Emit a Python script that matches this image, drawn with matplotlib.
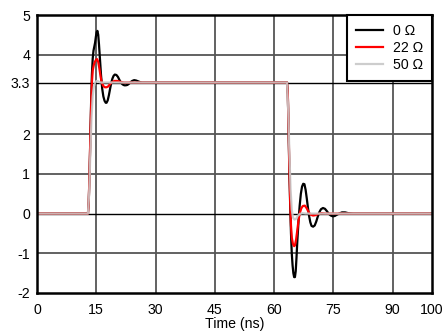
import matplotlib
matplotlib.use("Agg")
import matplotlib.pyplot as plt

plt.rcParams['font.family'] = ['Liberation Sans', 'DejaVu Sans']

# ---- data ----
t_0 = [0, 12.9, 13.1, 13.3, 13.5, 13.7, 13.9, 14.1, 14.3, 14.5, 14.7, 14.9, 15.1, 15.3, 15.5, 15.7,
       15.9, 16.2, 16.5, 16.8, 17.1, 17.4, 17.6, 17.9, 18.2, 18.5, 18.8, 19.1, 19.4, 19.7, 20.1,
       20.5, 20.9, 21.3, 21.7, 22.1, 22.5, 22.9, 23.3, 23.7, 24.1, 24.6, 25.1, 25.6, 26.1, 26.6,
       27.5, 63.3, 63.5, 63.7, 63.9, 64.1, 64.3, 64.5, 64.7, 64.9, 65.1, 65.3, 65.5, 65.7, 65.9,
       66.2, 66.5, 66.8, 67.1, 67.4, 67.7, 68.0, 68.3, 68.6, 68.9, 69.2, 69.5, 69.9, 70.3, 70.7,
       71.1, 71.5, 71.9, 72.4, 72.9, 73.4, 73.9, 74.4, 74.9, 75.4, 75.9, 76.5, 77.2, 78.0, 78.8,
       80.0, 100]
v_0 = [0, 0, 0.3, 1.0, 1.9, 2.8, 3.5, 3.9, 4.1, 4.2, 4.3, 4.45, 4.57, 4.6, 4.5, 4.25,
       3.95, 3.5, 3.15, 2.95, 2.84, 2.79, 2.79, 2.85, 2.98, 3.14, 3.29, 3.40, 3.47, 3.5, 3.49,
       3.44, 3.36, 3.29, 3.25, 3.23, 3.23, 3.24, 3.27, 3.31, 3.34, 3.36, 3.35, 3.33, 3.31, 3.30,
       3.30, 3.30, 3.0, 2.0, 1.0, 0.2, -0.5, -1.0, -1.3, -1.5, -1.6, -1.6, -1.45, -1.1, -0.7,
       -0.2, 0.2, 0.5, 0.68, 0.75, 0.74, 0.6, 0.38, 0.14, -0.07, -0.22, -0.31, -0.33, -0.3, -0.2,
       -0.07, 0.04, 0.11, 0.14, 0.12, 0.06, -0.01, -0.05, -0.07, -0.06, -0.03, 0.0, 0.03, 0.03, 0.01,
       0, 0]

t_22 = [0, 12.9, 13.1, 13.3, 13.5, 13.7, 13.9, 14.1, 14.4, 14.7, 15.0, 15.2, 15.5, 15.8, 16.1,
        16.4, 16.8, 17.2, 17.6, 18.0, 18.5, 19.0, 19.6, 20.3, 21.0, 22.0, 63.3, 63.5, 63.7, 63.9,
        64.1, 64.3, 64.5, 64.8, 65.1, 65.3, 65.6, 65.9, 66.2, 66.5, 66.9, 67.3, 67.8, 68.3, 68.8,
        69.3, 69.9, 70.5, 71.2, 72.0, 73.0, 100]
v_22 = [0, 0, 0.3, 1.0, 1.9, 2.7, 3.3, 3.6, 3.75, 3.83, 3.88, 3.89, 3.82, 3.65, 3.45,
        3.3, 3.21, 3.18, 3.18, 3.2, 3.26, 3.31, 3.34, 3.34, 3.32, 3.30, 3.30, 3.0, 2.1, 1.1,
        0.3, -0.3, -0.6, -0.77, -0.82, -0.8, -0.65, -0.42, -0.18, 0.0, 0.13, 0.19, 0.2, 0.13, 0.03,
        -0.03, -0.05, -0.04, -0.01, 0.01, 0, 0]

t_50 = [0, 12.9, 13.2, 13.5, 13.8, 14.1, 14.4, 14.7, 15.1, 15.5, 16.0, 63.3, 63.6, 63.9, 64.2,
        64.5, 64.8, 65.2, 65.6, 66.0, 66.5, 67.2, 68.0, 100]
v_50 = [0, 0, 0.5, 1.5, 2.4, 2.95, 3.2, 3.3, 3.34, 3.33, 3.3, 3.3, 2.6, 1.5, 0.6,
        0.1, -0.1, -0.15, -0.13, -0.06, -0.01, 0.01, 0, 0]

series_labels = ['0 Ω', '22 Ω', '50 Ω']
series_colors = ['#000000', '#ff0000', '#c8c8c8']

x_ticks = [0, 15, 30, 45, 60, 75, 90, 100]
y_ticks = [-2, -1, 0, 1, 2, 3.3, 4, 5]
x_label = 'Time (ns)'

# ---- figure ----
W, H = 442, 333
fig = plt.figure(figsize=(W / 100, H / 100), dpi=100)
L, R, T, B = 37, 432, 15, 293
ax = fig.add_axes([L / W, 1 - B / H, (R - L) / W, (B - T) / H])

ax.set_xlim(0, 100)
ax.set_ylim(-2, 5)

# grid
for xv in x_ticks:
    if 0 < xv < 100:
        ax.axvline(xv, color='#555555', lw=1.3, zorder=1)
for yv in y_ticks:
    if -2 < yv < 5:
        if yv in (0, 3.3):
            ax.axhline(yv, color='#000000', lw=1.0, zorder=1)
        else:
            ax.axhline(yv, color='#555555', lw=1.3, zorder=1)

ax.plot(t_0, v_0, color=series_colors[0], lw=1.6, label=series_labels[0], zorder=3)
ax.plot(t_22, v_22, color=series_colors[1], lw=1.6, label=series_labels[1], zorder=4)
ax.plot(t_50, v_50, color=series_colors[2], lw=1.6, label=series_labels[2], zorder=5, alpha=0.9)

FS = 10.2
ax.set_xticks(x_ticks)
ax.set_xticklabels([str(v) for v in x_ticks])
ax.set_yticks(y_ticks)
ax.set_yticklabels(['-2', '-1', '0', '1', '2', '3.3', '4', '5'])
ax.tick_params(length=0, labelsize=FS, colors='black')
ax.yaxis.set_tick_params(pad=5)
ax.xaxis.set_tick_params(pad=7.5)
fig.text((L + R) / 2 / W, 1 - 324 / H, x_label, fontsize=FS, ha='center', va='center')

for s in ax.spines.values():
    s.set_linewidth(1.8)
    s.set_color('black')
    s.set_zorder(6)

leg = ax.legend(loc='upper right', borderaxespad=0, fancybox=False, framealpha=1,
                edgecolor='black', fontsize=FS, handlelength=1.95, handletextpad=0.65,
                labelspacing=0.2, borderpad=0.65)
leg.get_frame().set_linewidth(1.5)
leg.set_zorder(10)

fig.savefig('out.png', dpi=100)
